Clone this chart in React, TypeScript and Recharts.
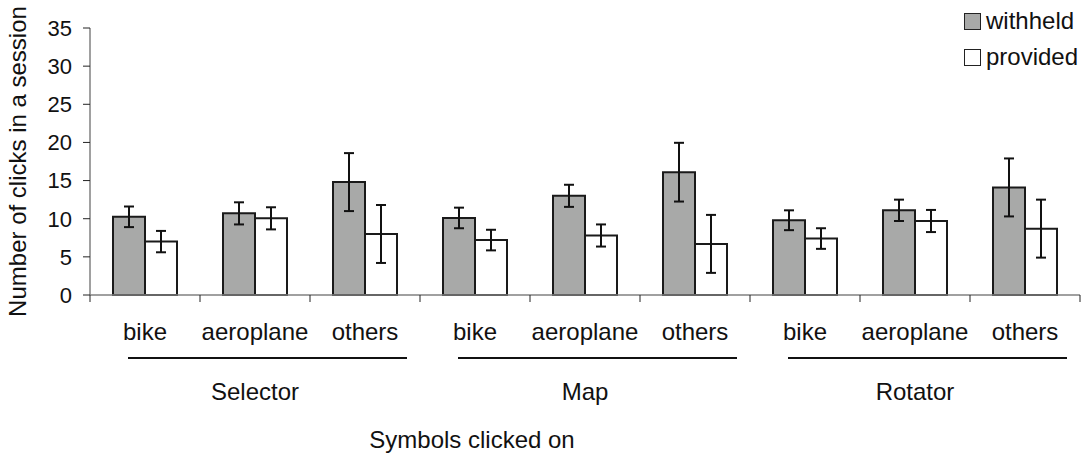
import React from "react";
import {
  BarChart,
  Bar,
  XAxis,
  YAxis,
  ErrorBar,
  Legend,
  Label,
} from "recharts";

// categories along the x axis, three per interface
const CATEGORIES = [
  "bike", "aeroplane", "others",
  "bike", "aeroplane", "others",
  "bike", "aeroplane", "others",
];
const GROUPS = ["Selector", "Map", "Rotator"];
const SERIES = ["withheld", "provided"];

// mean clicks per session
const WITHHELD = [10.25, 10.7, 14.8, 10.1, 13.0, 16.1, 9.8, 11.1, 14.1];
const WITHHELD_ERR = [1.35, 1.45, 3.8, 1.35, 1.45, 3.85, 1.3, 1.4, 3.8];
const PROVIDED = [7.0, 10.05, 8.0, 7.2, 7.8, 6.7, 7.4, 9.7, 8.7];
const PROVIDED_ERR = [1.4, 1.45, 3.8, 1.35, 1.45, 3.8, 1.35, 1.45, 3.8];

const Y_TICKS = [0, 5, 10, 15, 20, 25, 30, 35];
const BOUND_TICKS = [0, 1, 2, 3, 4, 5, 6, 7, 8, 9];
const GROUP_TICKS = [1.5, 4.5, 7.5];

const FONT = '"Liberation Sans", Arial, sans-serif';
const INK = "#111";
const AXIS = "#808080";
const GREY = "#a8a9a8";

const data = CATEGORIES.map((c, i) => ({
  cat: c,
  pos: i + 0.5,
  withheld: WITHHELD[i],
  withheldErr: WITHHELD_ERR[i],
  provided: PROVIDED[i],
  providedErr: PROVIDED_ERR[i],
}));

// group label with the rule above it
const GroupTick = ({ x, y, payload }: any) => {
  const name = GROUPS[Math.floor(payload.value / 3)];
  return (
    <g>
      <line x1={x - 127} x2={x + 152} y1={y + 8} y2={y + 8} stroke={INK} strokeWidth={2} />
      <text x={x} y={y + 50} textAnchor="middle" fontSize={24} fill={INK} fontFamily={FONT}>
        {name}
      </text>
    </g>
  );
};

const EmptyTick = () => <g />;

const LegendBox = ({ payload }: any) => {
  const items = SERIES.map((s) => (payload || []).find((p: any) => p.value === s)).filter(Boolean);
  return (
    <div style={{ fontFamily: FONT, fontSize: 24, color: INK, lineHeight: "36px" }}>
      {items.map((entry: any) => (
        <div key={entry.value} style={{ display: "flex", alignItems: "center", height: 36 }}>
          <span
            style={{
              display: "inline-block",
              width: 15,
              height: 15,
              background: entry.color,
              border: "1.5px solid #222",
              marginRight: 5,
            }}
          />
          {entry.value}
        </div>
      ))}
    </div>
  );
};

export default function App() {
  return (
    <div style={{ position: "fixed", left: 0, top: 0, background: "#fff" }}>
      <BarChart
        width={1085}
        height={456}
        data={data}
        barGap={0}
        margin={{ top: 28, right: 5, left: 0, bottom: 0 }}>
        {/* boundary ticks between categories */}
        <XAxis
          xAxisId="bounds"
          dataKey="pos"
          type="number"
          domain={[0, 9]}
          allowDataOverflow
          ticks={BOUND_TICKS}
          interval={0}
          height={1}
          tickSize={7}
          tick={<EmptyTick />}
          axisLine={{ stroke: AXIS, strokeWidth: 1.5 }}
          tickLine={{ stroke: "#222", strokeWidth: 1 }}
        />
        {/* category names */}
        <XAxis
          xAxisId="cat"
          dataKey="cat"
          interval={0}
          height={54}
          tickSize={0}
          tickMargin={27}
          axisLine={false}
          tickLine={false}
          tick={{ fontSize: 24, fill: INK, fontFamily: FONT }}
        />
        {/* interface groups */}
        <XAxis
          xAxisId="group"
          dataKey="pos"
          type="number"
          domain={[0, 9]}
          allowDataOverflow
          ticks={GROUP_TICKS}
          interval={0}
          height={106}
          tickSize={0}
          tickMargin={0}
          axisLine={false}
          tickLine={false}
          tick={<GroupTick />}>
          <Label
            value="Symbols clicked on"
            position="insideBottom"
            offset={8}
            dx={-113}
            style={{ fontSize: 24, fill: INK, fontFamily: FONT }}
          />
        </XAxis>
        <YAxis
          domain={[0, 35]}
          ticks={Y_TICKS}
          interval={0}
          width={90}
          tickSize={7}
          tickMargin={11}
          axisLine={{ stroke: AXIS, strokeWidth: 1.5 }}
          tickLine={{ stroke: "#222", strokeWidth: 1 }}
          tick={{ fontSize: 22, fill: INK, fontFamily: FONT }}>
          <Label
            value="Number of clicks in a session"
            angle={-90}
            position="insideLeft"
            offset={17}
            style={{ fontSize: 24, fill: INK, fontFamily: FONT, textAnchor: "middle" }}
          />
        </YAxis>
        <Legend
          layout="vertical"
          align="center"
          verticalAlign="middle"
          content={<LegendBox />}
          wrapperStyle={{ top: 3, left: 964, width: "auto", height: "auto" }}
        />
        <Bar
          xAxisId="cat"
          dataKey="withheld"
          name="withheld"
          fill={GREY}
          stroke="#1a1a1a"
          strokeWidth={2}
          barSize={32}
          isAnimationActive={false}>
          <ErrorBar dataKey="withheldErr" width={5} stroke="#111" strokeWidth={2} isAnimationActive={false} />
        </Bar>
        <Bar
          xAxisId="cat"
          dataKey="provided"
          name="provided"
          fill="#ffffff"
          stroke="#1a1a1a"
          strokeWidth={2}
          barSize={32}
          isAnimationActive={false}>
          <ErrorBar dataKey="providedErr" width={5} stroke="#111" strokeWidth={2} isAnimationActive={false} />
        </Bar>
      </BarChart>
    </div>
  );
}
